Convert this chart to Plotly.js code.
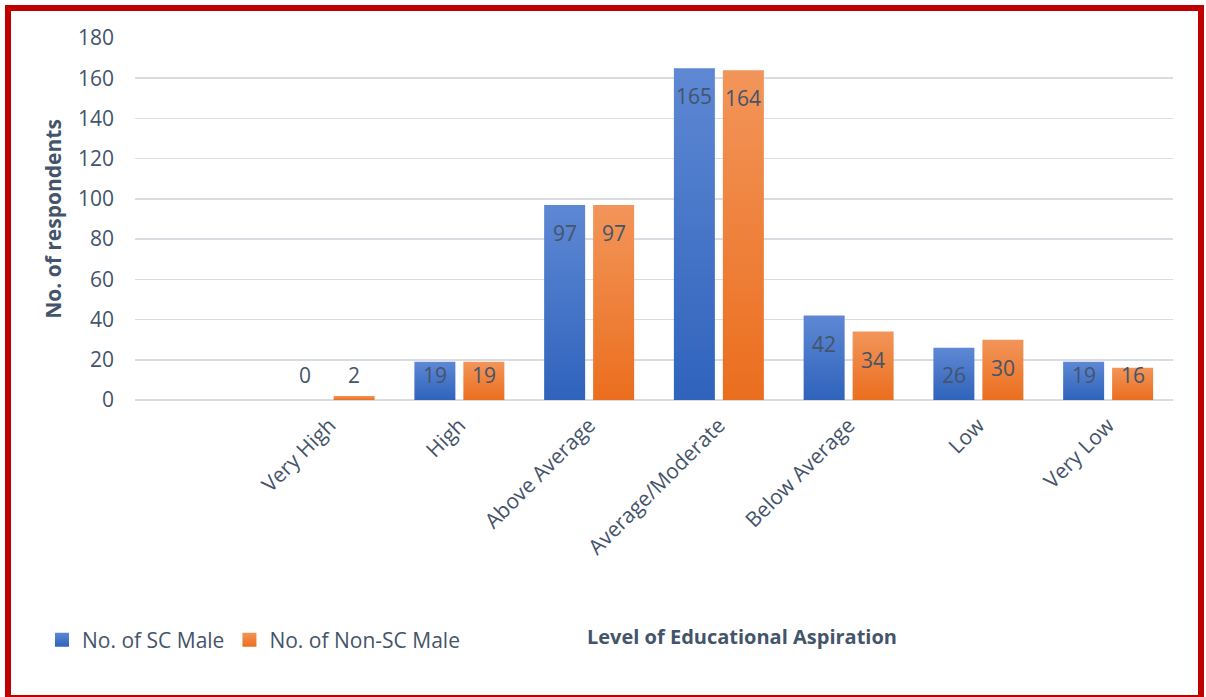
<!DOCTYPE html>
<html>
<head>
<meta charset="utf-8">
<script src="https://cdn.plot.ly/plotly-3.0.1.min.js"></script>
<style>
  html, body { margin: 0; padding: 0; background: #ffffff; overflow: hidden; }
  #chart { position: absolute; left: 0; top: 0; width: 1206px; height: 697px; }
  #frame {
    position: absolute; left: 5px; top: 5px; width: 1199px; height: 696px;
    box-sizing: border-box; border: 6px solid #C00000; pointer-events: none;
  }
</style>
</head>
<body>
<div id="chart"></div>
<div id="frame"></div>
<script>
// Level of educational aspiration by group
const categories = ['Very High', 'High', 'Above Average', 'Average/Moderate', 'Below Average', 'Low', 'Very Low'];
const scMale = [0, 19, 97, 165, 42, 26, 19];
const nonScMale = [2, 19, 97, 164, 34, 30, 16];
const seriesNames = ['No. of SC Male', 'No. of Non-SC Male'];
const yTicks = [0, 20, 40, 60, 80, 100, 120, 140, 160, 180];

const textColor = '#44546A';
const fontFamily = '"Open Sans", "Noto Sans", sans-serif';

const margin = { l: 135, r: 33, t: 38, b: 297 };
const plotWidth = 1206 - margin.l - margin.r;
const nSlots = categories.length + 1;          // one empty slot before the first category
const barGap = 0.245;
const slotWidth = plotWidth / nSlots;
const barOffset = slotWidth * (1 - barGap) / 4; // centre of each bar within its group

const traces = [
  { type: 'bar', name: seriesNames[0], x: categories, y: scMale, marker: { color: '#4472C4' }, hoverinfo: 'skip' },
  { type: 'bar', name: seriesNames[1], x: categories, y: nonScMale, marker: { color: '#ED7D31' }, hoverinfo: 'skip' }
];

// value labels sit inside the top of each bar; short bars keep them at a minimum height
const labelFloor = 26.5;
const annotations = [];
[scMale, nonScMale].forEach((vals, s) => {
  vals.forEach((v, i) => {
    annotations.push({
      xref: 'x', yref: 'y', x: categories[i], y: Math.max(v, labelFloor),
      xshift: s === 0 ? -barOffset : barOffset, yshift: -28,
      text: String(v), showarrow: false, yanchor: 'middle', xanchor: 'center',
      font: { family: fontFamily, size: 21, color: textColor }
    });
  });
});

annotations.push({
  xref: 'paper', yref: 'paper', x: (742 - margin.l) / plotWidth, y: (400 - 636) / 362,
  text: '<b>Level of Educational Aspiration</b>', showarrow: false,
  xanchor: 'center', yanchor: 'middle',
  font: { family: fontFamily, size: 20, color: textColor }
});

const layout = {
  width: 1206, height: 697,
  margin: margin,
  paper_bgcolor: '#ffffff', plot_bgcolor: '#ffffff',
  barmode: 'group', bargap: barGap, bargroupgap: 0.163,
  showlegend: true,
  legend: {
    orientation: 'h', x: (42 - margin.l) / plotWidth, y: (400 - 640) / 362,
    xanchor: 'left', yanchor: 'middle',
    font: { family: fontFamily, size: 21, color: textColor },
    bgcolor: 'rgba(0,0,0,0)'
  },
  xaxis: {
    type: 'category', categoryorder: 'array', categoryarray: categories,
    range: [-1.5, categories.length - 0.5],
    tickangle: -45, ticklabelstandoff: 8,
    tickfont: { family: fontFamily, size: 21, color: textColor },
    showgrid: false, showline: false, zeroline: false, ticks: '', fixedrange: true
  },
  yaxis: {
    range: [0, 180], tickvals: yTicks, ticktext: yTicks.map(String),
    showgrid: true, gridcolor: '#D9DCE0', gridwidth: 1.5,
    zeroline: true, zerolinecolor: '#D9DCE0', zerolinewidth: 1.5,
    showline: false, ticks: '', ticklabelstandoff: 20,
    tickfont: { family: fontFamily, size: 21, color: textColor },
    title: { text: '<b>No. of respondents</b>', standoff: 10,
             font: { family: fontFamily, size: 21, color: textColor } },
    fixedrange: true
  },
  annotations: annotations
};

const gradients = [
  { id: 'gradSC', top: '#5E88D4', bottom: '#2F63BC' },
  { id: 'gradNonSC', top: '#F2955A', bottom: '#EB6E1E' }
];

Plotly.newPlot('chart', traces, layout, { displayModeBar: false, staticPlot: true }).then(gd => {
  // vertical light-to-dark fill on bars and legend swatches
  const ns = 'http://www.w3.org/2000/svg';
  const svg = gd.querySelector('svg.main-svg');
  let defs = svg.querySelector('defs');
  if (!defs) { defs = document.createElementNS(ns, 'defs'); svg.insertBefore(defs, svg.firstChild); }
  gradients.forEach(g => {
    const lg = document.createElementNS(ns, 'linearGradient');
    lg.setAttribute('id', g.id);
    lg.setAttribute('x1', '0'); lg.setAttribute('y1', '0');
    lg.setAttribute('x2', '0'); lg.setAttribute('y2', '1');
    [[0, g.top], [1, g.bottom]].forEach(([o, c]) => {
      const st = document.createElementNS(ns, 'stop');
      st.setAttribute('offset', String(o));
      st.setAttribute('stop-color', c);
      lg.appendChild(st);
    });
    defs.appendChild(lg);
  });
  gd.querySelectorAll('.barlayer .trace').forEach((tr, i) => {
    tr.querySelectorAll('path').forEach(p => { p.style.fill = `url(#${gradients[i].id})`; });
  });
  gd.querySelectorAll('.legend .traces').forEach((tr, i) => {
    tr.querySelectorAll('.legendpoints path').forEach(p => {
      p.setAttribute('d', 'M7,7H-7V-7H7Z');
      p.style.fill = `url(#${gradients[i].id})`;
    });
  });
});
</script>
</body>
</html>
